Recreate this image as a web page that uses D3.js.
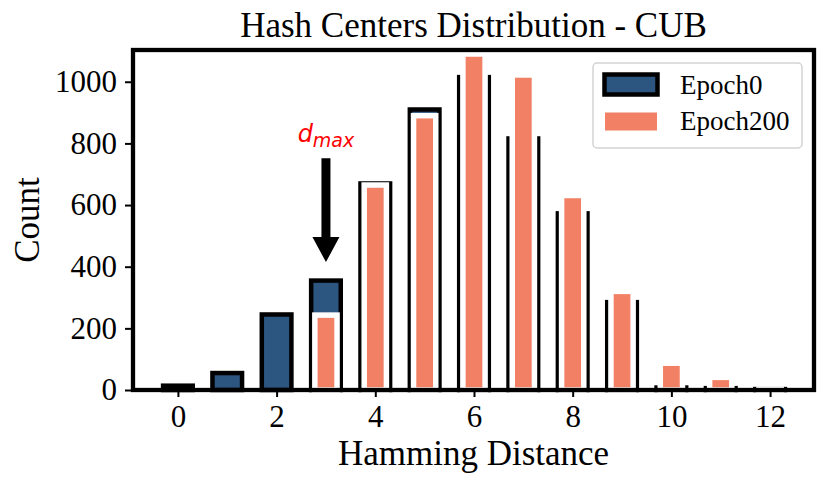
<!DOCTYPE html>
<html>
<head>
<meta charset="utf-8">
<script src="https://cdnjs.cloudflare.com/ajax/libs/d3/7.8.5/d3.min.js"></script>
<style>
    body { margin: 0; background: #fff; }
    svg { display: block; }
</style>
</head>
<body>
<div id="chart"></div>
<script>
// Data
const distances = [0, 1, 2, 3, 4, 5, 6, 7, 8, 9, 10, 11, 12];
const epoch0Counts = [14, 55, 245, 355, 670, 910, 1015, 816, 573, 285, 8, 6, 3];
const epoch200Counts = [null, null, null, 243, 665, 890, 1090, 1022, 631, 320, 87, 41, 3];
const yTickValues = [0, 200, 400, 600, 800, 1000];
const xTickValues = [0, 2, 4, 6, 8, 10, 12];
const seriesNames = ['Epoch0', 'Epoch200'];

// d_max annotation (in data units)
const dmaxAt = 3;
const dmaxLabelY = 805;
const arrowStartY = 752;
const arrowEndY = 415;

const makeChart = function() {
    const svgWidth = 831;
    const svgHeight = 488;

    const chartMargin = { top: 50, right: 17, bottom: 98, left: 133 };
    const chartWidth = svgWidth - chartMargin.left - chartMargin.right;
    const chartHeight = svgHeight - chartMargin.top - chartMargin.bottom;

    const blue = '#2c5580';
    const salmon = '#f28064';
    const serif = '"Liberation Serif", "Times New Roman", serif';

    const svg = d3.select('#chart')
        .append('svg')
        .attr('width', svgWidth)
        .attr('height', svgHeight);

    const chartGroup = svg.append('g')
        .attr('transform', `translate(${chartMargin.left}, ${chartMargin.top})`);

    const xScale = d3.scaleLinear()
        .domain([-0.91, 12.89])
        .range([0, chartWidth]);
    const yScale = d3.scaleLinear()
        .domain([0, 1103])
        .range([chartHeight, 0]);

    const unit = xScale(1) - xScale(0);
    const width0 = 0.6 * unit;
    const width200 = 0.45 * unit;

    // Epoch0 bars: blue with thick black edge
    chartGroup.selectAll('.bar0')
        .data(distances)
        .enter()
        .append('rect')
        .attr('class', 'bar0')
        .attr('x', d => xScale(d) - width0 / 2)
        .attr('y', (d, i) => yScale(epoch0Counts[i]))
        .attr('width', width0)
        .attr('height', (d, i) => chartHeight - yScale(epoch0Counts[i]))
        .style('fill', blue)
        .style('stroke', '#000')
        .style('stroke-width', 4.5);

    // Epoch200 bars: salmon with white edge, drawn on top
    const idx200 = distances.filter((d, i) => epoch200Counts[i] !== null);
    chartGroup.selectAll('.bar200')
        .data(idx200)
        .enter()
        .append('rect')
        .attr('class', 'bar200')
        .attr('x', d => xScale(d) - width200 / 2)
        .attr('y', d => yScale(epoch200Counts[d]))
        .attr('width', width200)
        .attr('height', d => chartHeight - yScale(epoch200Counts[d]))
        .style('fill', salmon)
        .style('stroke', '#fff')
        .style('stroke-width', 5.5);

    // Axes
    const xAxis = d3.axisBottom(xScale).tickValues(xTickValues).tickSize(7).tickPadding(8);
    const yAxis = d3.axisLeft(yScale).tickValues(yTickValues).tickFormat(d3.format('d'))
        .tickSize(8).tickPadding(8);

    const xg = chartGroup.append('g')
        .attr('transform', `translate(0, ${chartHeight})`)
        .call(xAxis);
    const yg = chartGroup.append('g')
        .call(yAxis);

    [xg, yg].forEach(g => {
        g.select('.domain').remove();
        g.selectAll('.tick line').attr('stroke', '#000').attr('stroke-width', 2);
        g.selectAll('.tick text')
            .attr('fill', '#000')
            .style('font-family', serif)
            .style('font-size', '31px');
    });

    // Thick frame
    chartGroup.append('rect')
        .attr('width', chartWidth)
        .attr('height', chartHeight)
        .style('fill', 'none')
        .style('stroke', '#000')
        .style('stroke-width', 4.3);

    // d_max arrow
    const ax = xScale(dmaxAt);
    const shaftW = 9;
    const headW = 27;
    const headLen = 25;
    const y1 = yScale(arrowStartY);
    const y2 = yScale(arrowEndY);
    chartGroup.append('path')
        .attr('d', `M${ax - shaftW / 2},${y1} L${ax + shaftW / 2},${y1} L${ax + shaftW / 2},${y2 - headLen}
            L${ax + headW / 2},${y2 - headLen} L${ax},${y2} L${ax - headW / 2},${y2 - headLen}
            L${ax - shaftW / 2},${y2 - headLen} Z`)
        .style('fill', '#000');

    const dmax = chartGroup.append('text')
        .attr('x', ax)
        .attr('y', yScale(dmaxLabelY))
        .attr('text-anchor', 'middle')
        .style('font-family', '"DejaVu Sans", sans-serif')
        .style('font-style', 'italic')
        .style('fill', '#ff0000');
    dmax.append('tspan').style('font-size', '24px').text('d');
    dmax.append('tspan').style('font-size', '19px').attr('dy', 5).text('max');

    // Legend
    const legend = svg.append('g').attr('transform', 'translate(593, 63)');
    legend.append('rect')
        .attr('width', 209)
        .attr('height', 85)
        .attr('rx', 4)
        .style('fill', '#fff')
        .style('fill-opacity', 0.8)
        .style('stroke', '#d3d3d3')
        .style('stroke-width', 1.5);
    legend.append('rect')
        .attr('x', 11.5).attr('y', 11.5)
        .attr('width', 53).attr('height', 20)
        .style('fill', blue)
        .style('stroke', '#000')
        .style('stroke-width', 4.5);
    legend.append('rect')
        .attr('x', 12).attr('y', 49.5)
        .attr('width', 52).attr('height', 18)
        .style('fill', salmon);
    legend.selectAll('.ltext')
        .data(seriesNames)
        .enter()
        .append('text')
        .attr('x', 87)
        .attr('y', (d, i) => 30.5 + i * 36.5)
        .style('font-family', serif)
        .style('font-size', '27px')
        .style('fill', '#000')
        .text(d => d);

    // Title and axis labels
    svg.append('text')
        .attr('x', chartMargin.left + chartWidth / 2)
        .attr('y', 36.5)
        .attr('text-anchor', 'middle')
        .style('font-family', serif)
        .style('font-size', '35px')
        .text('Hash Centers Distribution - CUB');

    svg.append('text')
        .attr('x', chartMargin.left + chartWidth / 2)
        .attr('y', 465)
        .attr('text-anchor', 'middle')
        .style('font-family', serif)
        .style('font-size', '35px')
        .text('Hamming Distance');

    svg.append('text')
        .attr('transform', `translate(38.5, ${chartMargin.top + chartHeight / 2}) rotate(-90)`)
        .attr('text-anchor', 'middle')
        .style('font-family', serif)
        .style('font-size', '35px')
        .text('Count');
};

makeChart();
</script>
</body>
</html>
